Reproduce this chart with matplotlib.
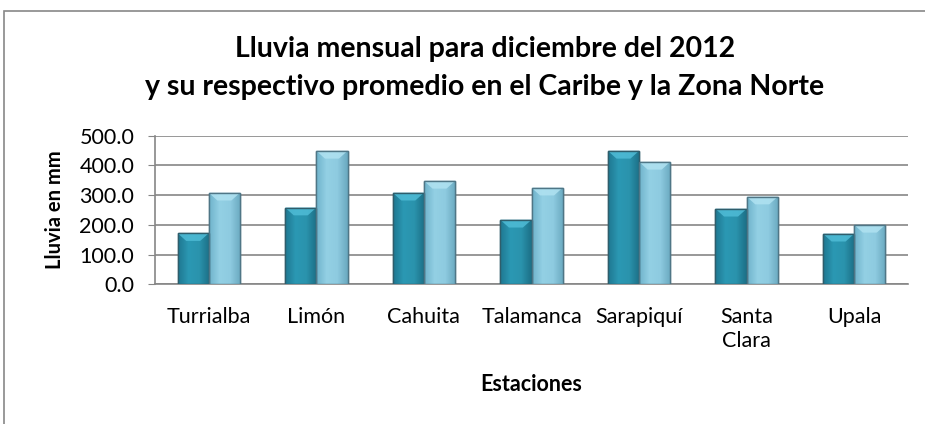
import numpy as np
import matplotlib.pyplot as plt
from matplotlib.patches import Rectangle, Polygon
from matplotlib.colors import LinearSegmentedColormap

plt.rcParams['font.family'] = ['Lato', 'DejaVu Sans']

estaciones = ['Turrialba', 'Limón', 'Cahuita', 'Talamanca', 'Sarapiquí', 'Santa\nClara', 'Upala']
lluvia_2012 = [172, 258, 308, 217, 449, 254, 170]
promedio = [308, 449, 348, 325, 412, 295, 200]
yticks = [0, 100, 200, 300, 400, 500]

fig = plt.figure(figsize=(9.25, 4.24), dpi=100)
# marco del grafico
fig.patches.append(Rectangle((4 / 925, -0.1), 1.2, 1 - 11 / 424 + 0.1, transform=fig.transFigure,
                             fill=False, edgecolor='#888888', linewidth=1.2))

ax = fig.add_axes([155 / 925, 1 - 284.3 / 424, 753 / 925, 148.6 / 424])
x = np.arange(len(estaciones))
w = 0.29

cmap_osc = LinearSegmentedColormap.from_list('osc', ['#1f7891', '#2b98b3', '#2a93ad', '#1c6f86'])
cmap_cla = LinearSegmentedColormap.from_list('cla', ['#6fb3cb', '#93d0e4', '#8ecbe0', '#6aa9c0'])

b1 = ax.bar(x - w / 2, lluvia_2012, w, color='#2792ad', edgecolor='#2f5d6b', linewidth=1.0, zorder=3)
b2 = ax.bar(x + w / 2, promedio, w, color='#8ecbe0', edgecolor='#4f7686', linewidth=1.0, zorder=3)

grad = np.linspace(0, 1, 64).reshape(1, -1)
for bars, cmap, top in [(b1, cmap_osc, '#4fbcd6'), (b2, cmap_cla, '#b0e2f1')]:
    for b in bars:
        bx, bw, bh = b.get_x(), b.get_width(), b.get_height()
        im = ax.imshow(grad, cmap=cmap, aspect='auto', extent=[bx, bx + bw, 0, bh], zorder=3.1)
        im.set_clip_path(b)
        bev = 26
        poly = Polygon([[bx, bh], [bx + bw, bh], [bx + bw - 0.08, bh - bev], [bx + 0.08, bh - bev]],
                       closed=True, facecolor=top, edgecolor='none', alpha=0.85, zorder=3.2)
        ax.add_patch(poly)
        ax.add_patch(Rectangle((bx, 0), bw, bh, fill=False, edgecolor=b.get_edgecolor(),
                               linewidth=1.0, zorder=3.3))

ax.set_xlim(-0.5, len(estaciones) - 0.5)
ax.set_ylim(0, 500)
ax.set_yticks(yticks)
ax.set_yticklabels([f'{v:.1f}' for v in yticks], fontsize=15.5)
ax.set_xticks(x)
ax.set_xticklabels(estaciones, fontsize=15.5, linespacing=1.3, va='top')
ax.tick_params(axis='x', length=0, pad=16)
ax.tick_params(axis='y', length=5, color='#868686', pad=10)
ax.yaxis.grid(True, color='#868686', linewidth=1.2, zorder=0)
ax.set_axisbelow(True)
for s in ['top', 'right']:
    ax.spines[s].set_visible(False)
for s in ['left', 'bottom']:
    ax.spines[s].set_color('#868686')
    ax.spines[s].set_linewidth(1.2)

ax.set_ylabel('Lluvia en mm', fontsize=14.5, fontweight='bold', labelpad=10)
ax.set_xlabel('Estaciones', fontsize=15.5, fontweight='bold', labelpad=16)

fig.text(485 / 925, 1 - 49 / 424, 'Lluvia mensual para diciembre del 2012', ha='center', va='center',
         fontsize=20.5, fontweight='bold')
fig.text(485 / 925, 1 - 87 / 424, 'y su respectivo promedio en el Caribe y la Zona Norte', ha='center',
         va='center', fontsize=20.5, fontweight='bold')

fig.savefig('out.png', dpi=100)
